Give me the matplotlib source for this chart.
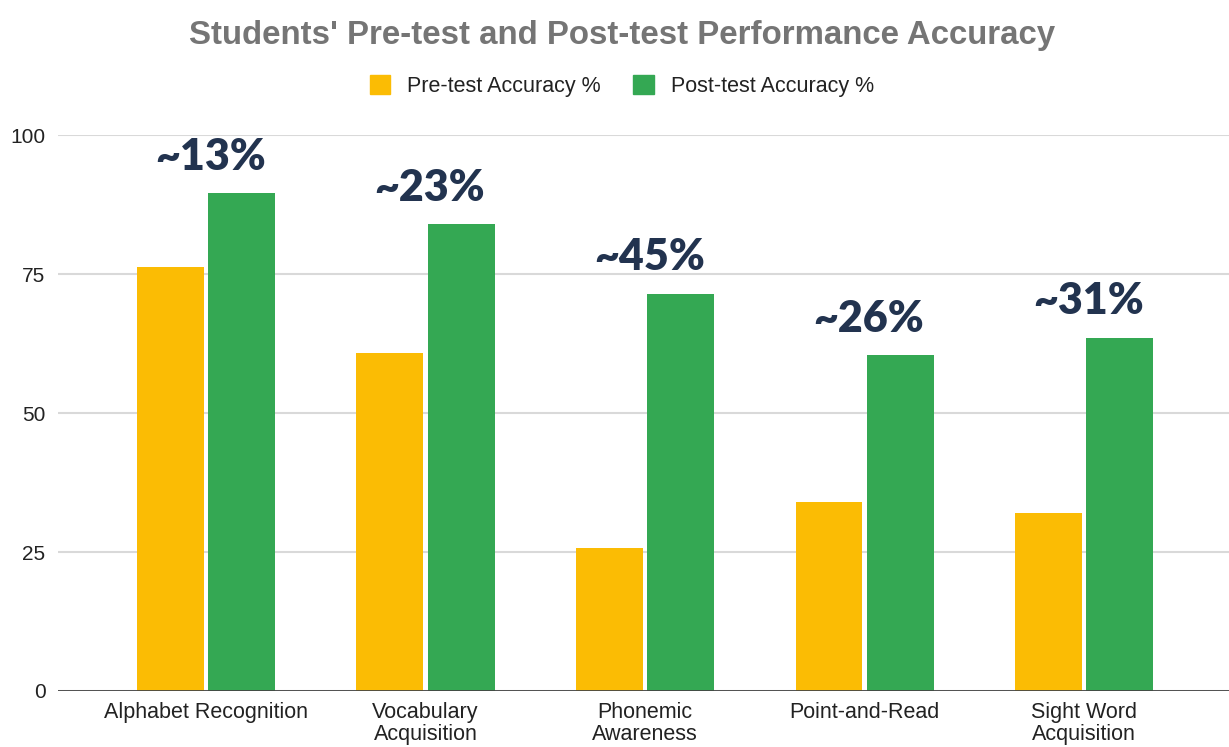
import numpy as np
import matplotlib.pyplot as plt
from matplotlib.patches import Patch

# data
categories = ["Alphabet Recognition", "Vocabulary\nAcquisition", "Phonemic\nAwareness",
              "Point-and-Read", "Sight Word\nAcquisition"]
pre_test = [76.3, 60.8, 25.8, 34.0, 32.1]
post_test = [89.6, 84.0, 71.5, 60.4, 63.6]
gain_labels = ["~13%", "~23%", "~45%", "~26%", "~31%"]
yticks = [0, 25, 50, 75, 100]

YELLOW = "#fbbc04"
GREEN = "#34a853"
NAVY = "#22334f"

plt.rcParams['font.family'] = ['Liberation Sans', 'DejaVu Sans']

fig = plt.figure(figsize=(12.29, 7.47), dpi=100)
ax = fig.add_axes([0.0472, 0.075, 0.9528, 0.744])

x = np.arange(len(categories))
w = 0.305
ax.bar(x - 0.162, pre_test, width=w, color=YELLOW, zorder=3)
ax.bar(x + 0.162, post_test, width=w, color=GREEN, zorder=3)

# gain labels above each pair
for i in range(len(categories)):
    ax.annotate(gain_labels[i], xy=(x[i] + 0.02, post_test[i]), xytext=(0, 26),
                textcoords="offset points", ha="center", va="center",
                fontsize=31, fontweight="heavy", family="Lato", color=NAVY,
                annotation_clip=False, zorder=5)

ax.set_xlim(-0.674, 4.66)
ax.set_ylim(0, 100)
ax.set_yticks(yticks)
ax.set_xticks(x)
ax.set_xticklabels(categories, fontsize=15.5, color="#222222", linespacing=1.08)
ax.tick_params(axis="y", labelsize=15, labelcolor="#222222", length=0, pad=9)
ax.tick_params(axis="x", length=0, pad=8)
ax.grid(axis="y", color="#d9d9d9", linewidth=1.5, zorder=0)
ax.axhline(0, color="#444444", linewidth=2, zorder=4)
for s in ax.spines.values():
    s.set_visible(False)

fig.text(0.506, 0.952, "Students' Pre-test and Post-test Performance Accuracy",
         ha="center", va="center", fontsize=23.8, fontweight="bold", color="#757575")

handles = [Patch(color=YELLOW, label="Pre-test Accuracy %"),
           Patch(color=GREEN, label="Post-test Accuracy %")]
fig.legend(handles=handles, loc="center", bbox_to_anchor=(0.506, 0.885), ncol=2,
           frameon=False, fontsize=15.5, handlelength=0.95, handleheight=0.95,
           handletextpad=0.8, columnspacing=1.5, labelcolor="#222222")

fig.savefig("out.png", dpi=100)
